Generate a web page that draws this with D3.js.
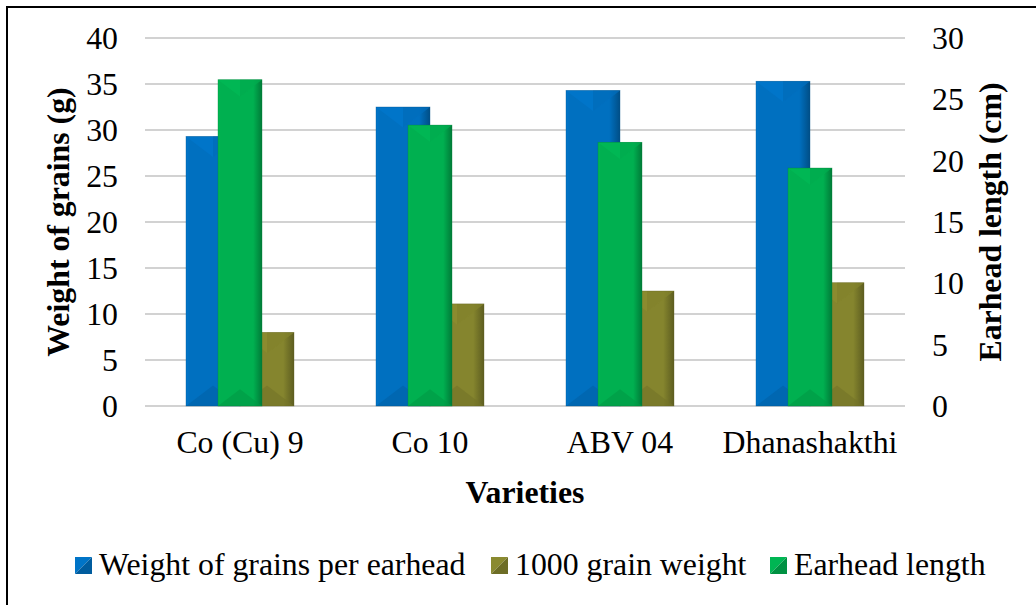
<!DOCTYPE html>
<html>
<head>
<meta charset="utf-8">
<script src="https://cdn.jsdelivr.net/npm/d3@7"></script>
<style>
  html, body { margin: 0; padding: 0; background: #ffffff; }
  svg { display: block; font-family: "Liberation Serif", "Times New Roman", serif; }
</style>
</head>
<body>
<svg id="chart" width="1036" height="605"></svg>
<script>
// Varieties on the category axis
const categories = ["Co (Cu) 9", "Co 10", "ABV 04", "Dhanashakthi"];
// Weight of grains per earhead (g), left axis
const grainWeightPerEarhead = [29.3, 32.5, 34.3, 35.3];
// 1000 grain weight (g), left axis
const thousandGrainWeight = [8.0, 11.1, 12.5, 13.4];
// Earhead length (cm), right axis
const earheadLength = [26.6, 22.9, 21.5, 19.4];
// Axis tick values
const leftTicks = [0, 5, 10, 15, 20, 25, 30, 35, 40];
const rightTicks = [0, 5, 10, 15, 20, 25, 30];

const seriesNames = ["Weight of grains per earhead", "1000 grain weight", "Earhead length"];
const seriesColors = ["#0070c0", "#85852e", "#00b050"];

const svg = d3.select("#chart");
const plot = { left: 145, right: 905, top: 38, bottom: 406 };
const fontSize = 31.8;
const serif = "Liberation Serif, Times New Roman, serif";

// outer frame
svg.append("rect")
  .attr("x", 7).attr("y", 7).attr("width", 1050).attr("height", 640)
  .attr("fill", "none").attr("stroke", "#000").attr("stroke-width", 2);

const x = d3.scaleBand().domain(categories).range([plot.left, plot.right]).padding(0);
const yL = d3.scaleLinear().domain([0, 40]).range([plot.bottom, plot.top]);
const yR = d3.scaleLinear().domain([0, 30]).range([plot.bottom, plot.top]);

// primary-axis bars sit side by side inside each category band
const groupWidth = 108;
const xSub = d3.scaleBand().domain([0, 1]).range([0, groupWidth]).padding(0);
const secondaryWidth = 44;

// gridlines
svg.append("g").selectAll("line")
  .data(leftTicks)
  .join("line")
  .attr("x1", plot.left).attr("x2", plot.right)
  .attr("y1", d => yL(d)).attr("y2", d => yL(d))
  .attr("stroke", "#c3c3c3").attr("stroke-width", 1.6);

// left axis
const leftAxis = svg.append("g")
  .attr("transform", `translate(${plot.left - 27},0)`)
  .call(d3.axisLeft(yL).tickValues(leftTicks).tickSize(0).tickPadding(0));
leftAxis.select(".domain").remove();
leftAxis.selectAll("text").attr("font-size", fontSize).attr("fill", "#000")
  .attr("font-family", serif).attr("dy", "0.33em");

// right axis
const rightAxis = svg.append("g")
  .attr("transform", `translate(${plot.right + 27},0)`)
  .call(d3.axisRight(yR).tickValues(rightTicks).tickSize(0).tickPadding(0));
rightAxis.select(".domain").remove();
rightAxis.selectAll("text").attr("font-size", fontSize).attr("fill", "#000")
  .attr("font-family", serif).attr("dy", "0.33em");

// category axis
const bottomAxis = svg.append("g")
  .attr("transform", `translate(0,${plot.bottom})`)
  .call(d3.axisBottom(x).tickSize(0).tickPadding(0));
bottomAxis.select(".domain").remove();
bottomAxis.selectAll("text").attr("font-size", fontSize).attr("fill", "#000")
  .attr("font-family", serif)
  .attr("dy", null).attr("y", 47);

// bevelled bar: flat face plus lighter top facet, darker bottom facet and shaded sides
const defs = svg.append("defs");
function sideGradient(id, color) {
  const c = d3.color(color);
  const g = defs.append("linearGradient").attr("id", id)
    .attr("x1", "0%").attr("x2", "100%").attr("y1", "0%").attr("y2", "0%");
  g.append("stop").attr("offset", "0%").attr("stop-color", c.brighter(0.15).formatHex());
  g.append("stop").attr("offset", "6%").attr("stop-color", c.formatHex());
  g.append("stop").attr("offset", "80%").attr("stop-color", c.formatHex());
  g.append("stop").attr("offset", "100%").attr("stop-color", c.darker(1.0).formatHex());
}
seriesColors.forEach((c, i) => sideGradient("side" + i, c));

function drawBar(layer, bx, by, bw, bh, si) {
  const c = d3.color(seriesColors[si]);
  const g = layer.append("g");
  g.append("rect").attr("x", bx).attr("y", by).attr("width", bw).attr("height", bh)
    .attr("fill", `url(#side${si})`);
  const d = Math.min(bw * 0.38, bh / 2);
  g.append("path")
    .attr("d", `M${bx},${by}L${bx + bw},${by}L${bx + bw / 2},${by + d}Z`)
    .attr("fill", c.brighter(0.2).formatHex()).attr("opacity", 0.6);
  g.append("path")
    .attr("d", `M${bx + bw / 2},${by}L${bx + bw},${by}L${bx + bw / 2},${by + d}Z`)
    .attr("fill", c.darker(0.3).formatHex()).attr("opacity", 0.4);
  g.append("path")
    .attr("d", `M${bx},${by + bh}L${bx + bw},${by + bh}L${bx + bw / 2},${by + bh - d}Z`)
    .attr("fill", c.darker(0.4).formatHex()).attr("opacity", 0.6);
  g.append("rect").attr("x", bx).attr("y", by).attr("width", bw).attr("height", bh)
    .attr("fill", "none").attr("stroke", c.darker(0.8).formatHex()).attr("stroke-width", 0.6)
    .attr("stroke-opacity", 0.6);
}

const bars = svg.append("g");
categories.forEach((cat, i) => {
  const center = x(cat) + x.bandwidth() / 2;
  const gx = center - groupWidth / 2;
  // primary axis series
  const y1 = yL(grainWeightPerEarhead[i]);
  drawBar(bars, gx + xSub(0), y1, xSub.bandwidth(), yL(0) - y1, 0);
  const y2 = yL(thousandGrainWeight[i]);
  drawBar(bars, gx + xSub(1), y2, xSub.bandwidth(), yL(0) - y2, 1);
});
categories.forEach((cat, i) => {
  const center = x(cat) + x.bandwidth() / 2;
  // secondary axis series drawn in front
  const y3 = yR(earheadLength[i]);
  drawBar(bars, center - secondaryWidth / 2, y3, secondaryWidth, yR(0) - y3, 2);
});

// axis titles
svg.append("text")
  .attr("transform", `translate(69,${(plot.top + plot.bottom) / 2}) rotate(-90)`)
  .attr("text-anchor", "middle").attr("font-size", fontSize).attr("font-weight", "bold")
  .text("Weight of grains (g)");
svg.append("text")
  .attr("transform", `translate(1001,${(plot.top + plot.bottom) / 2}) rotate(-90)`)
  .attr("text-anchor", "middle").attr("font-size", fontSize).attr("font-weight", "bold")
  .text("Earhead length (cm)");
svg.append("text")
  .attr("x", (plot.left + plot.right) / 2).attr("y", 503)
  .attr("text-anchor", "middle").attr("font-size", fontSize).attr("font-weight", "bold")
  .text("Varieties");

// legend
const legendItems = [
  { name: seriesNames[0], si: 0, x: 75 },
  { name: seriesNames[1], si: 1, x: 491 },
  { name: seriesNames[2], si: 2, x: 770 }
];
const legend = svg.append("g");
legendItems.forEach(it => {
  const c = d3.color(seriesColors[it.si]);
  const s = 17, sy = 557;
  legend.append("path")
    .attr("d", `M${it.x},${sy}L${it.x + s},${sy}L${it.x},${sy + s}Z`)
    .attr("fill", c.brighter(0.1).formatHex());
  legend.append("path")
    .attr("d", `M${it.x + s},${sy}L${it.x + s},${sy + s}L${it.x},${sy + s}Z`)
    .attr("fill", c.darker(0.55).formatHex());
  legend.append("text")
    .attr("x", it.x + s + 7).attr("y", 575)
    .attr("font-size", fontSize).text(it.name);
});
</script>
</body>
</html>
